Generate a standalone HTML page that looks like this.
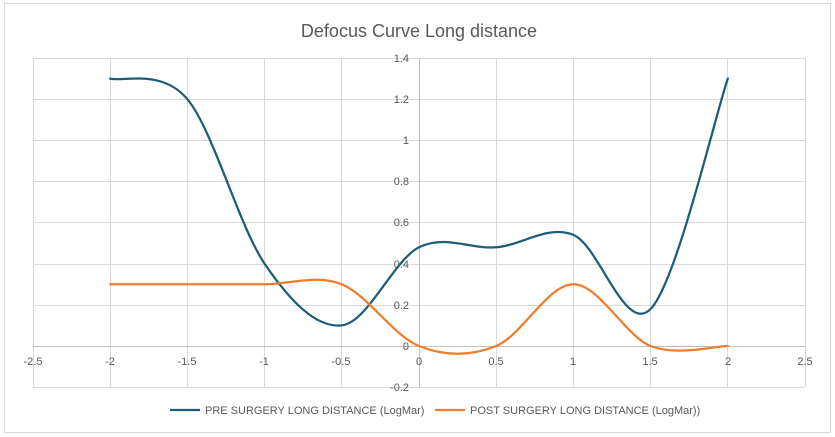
<!DOCTYPE html>
<html><head><meta charset="utf-8"><style>
html,body{margin:0;padding:0;background:#fff;}
svg{display:block;font-family:"Liberation Sans",sans-serif;}
</style></head><body>
<svg width="835" height="437" viewBox="0 0 835 437">
<rect x="4.5" y="3.5" width="826" height="429" fill="#fff" stroke="#d9d9d9"/>
<text x="419" y="37" text-anchor="middle" font-size="18" fill="#595959">Defocus Curve Long distance</text>
<g stroke="#d9d9d9" stroke-width="1">
<line x1="33" y1="58.5" x2="805" y2="58.5"/>
<line x1="33" y1="99.5" x2="805" y2="99.5"/>
<line x1="33" y1="140.5" x2="805" y2="140.5"/>
<line x1="33" y1="181.5" x2="805" y2="181.5"/>
<line x1="33" y1="222.5" x2="805" y2="222.5"/>
<line x1="33" y1="264.5" x2="805" y2="264.5"/>
<line x1="33" y1="305.5" x2="805" y2="305.5"/>
<line x1="33" y1="387.5" x2="805" y2="387.5"/>
<line x1="33.5" y1="58" x2="33.5" y2="387"/>
<line x1="110.5" y1="58" x2="110.5" y2="387"/>
<line x1="187.5" y1="58" x2="187.5" y2="387"/>
<line x1="264.5" y1="58" x2="264.5" y2="387"/>
<line x1="341.5" y1="58" x2="341.5" y2="387"/>
<line x1="496.5" y1="58" x2="496.5" y2="387"/>
<line x1="573.5" y1="58" x2="573.5" y2="387"/>
<line x1="650.5" y1="58" x2="650.5" y2="387"/>
<line x1="727.5" y1="58" x2="727.5" y2="387"/>
<line x1="805.5" y1="58" x2="805.5" y2="387"/>
</g>
<g stroke="#bfbfbf" stroke-width="1">
<line x1="33" y1="346.5" x2="805" y2="346.5"/>
<line x1="419.5" y1="58" x2="419.5" y2="387"/>
</g>
<g font-size="11" fill="#595959" text-anchor="end">
<text x="409" y="62">1.4</text><text x="409" y="103">1.2</text><text x="409" y="144">1</text>
<text x="409" y="185">0.8</text><text x="409" y="226">0.6</text><text x="409" y="268">0.4</text>
<text x="409" y="309">0.2</text><text x="409" y="350">0</text><text x="409" y="391">-0.2</text>
</g>
<g font-size="11" fill="#595959" text-anchor="middle">
<text x="33" y="365">-2.5</text><text x="110" y="365">-2</text><text x="187" y="365">-1.5</text>
<text x="264" y="365">-1</text><text x="341" y="365">-0.5</text><text x="419" y="365">0</text>
<text x="496" y="365">0.5</text><text x="573" y="365">1</text><text x="650" y="365">1.5</text>
<text x="728" y="365">2</text><text x="805" y="365">2.5</text>
</g>
<path fill="none" stroke="#1f5c7a" stroke-width="2.25" stroke-linecap="round" d="M110.2,78.6 C123.1,82.0 161.7,68.4 187.4,99.2 C213.1,130.1 238.9,226.0 264.6,263.7 C290.3,301.4 316.1,328.1 341.8,325.4 C367.5,322.7 393.3,260.3 419,247.3 C444.7,234.3 470.5,249.4 496.2,247.3 C521.9,245.2 547.7,224.6 573.4,234.9 C599.1,245.2 624.9,335.1 650.6,309 C676.3,283 714.9,116.3 727.8,78.6"/>
<path fill="none" stroke="#ed7d31" stroke-width="2.25" stroke-linecap="round" d="M110.2,284.3 C123.1,284.3 161.7,284.3 187.4,284.3 C213.1,284.3 238.9,284.3 264.6,284.3 C290.3,284.3 316.1,274.0 341.8,284.3 C367.5,294.6 393.3,335.7 419,346 C444.7,356.3 470.5,356.3 496.2,346 C521.9,335.7 547.7,284.3 573.4,284.3 C599.1,284.3 624.9,335.7 650.6,346 C676.3,356.3 714.9,346 727.8,346"/>
<line x1="170" y1="410" x2="200" y2="410" stroke="#1f5c7a" stroke-width="2.25"/>
<text x="205" y="414" font-size="11" fill="#595959">PRE SURGERY LONG DISTANCE (LogMar)</text>
<line x1="435" y1="410" x2="465" y2="410" stroke="#ed7d31" stroke-width="2.25"/>
<text x="470" y="414" font-size="11" fill="#595959">POST SURGERY LONG DISTANCE (LogMar))</text>
</svg>
</body></html>
